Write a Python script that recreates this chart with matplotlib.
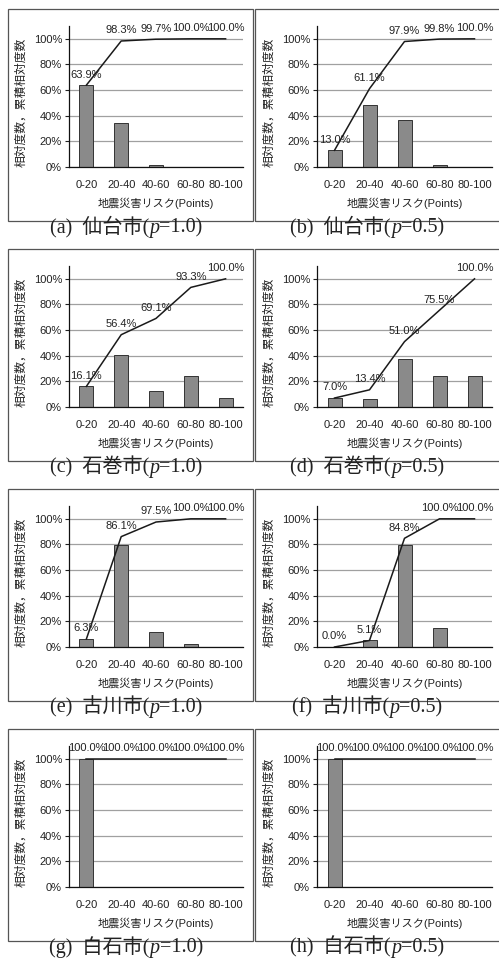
import matplotlib.pyplot as plt
from matplotlib.patches import Rectangle
from matplotlib.offsetbox import TextArea, HPacker, AnchoredOffsetbox

plt.rcParams['font.family'] = ['Liberation Sans', 'Noto Sans CJK JP']

# data (relative freq. = bars, cumulative = line)
categories = ['0-20', '20-40', '40-60', '60-80', '80-100']

rel_sendai_10 = [63.9, 34.4, 1.4, 0.3, 0.0]
cum_sendai_10 = [63.9, 98.3, 99.7, 100.0, 100.0]
rel_sendai_05 = [13.0, 48.1, 36.8, 1.9, 0.2]
cum_sendai_05 = [13.0, 61.1, 97.9, 99.8, 100.0]
rel_ishinomaki_10 = [16.1, 40.3, 12.7, 24.2, 6.7]
cum_ishinomaki_10 = [16.1, 56.4, 69.1, 93.3, 100.0]
rel_ishinomaki_05 = [7.0, 6.4, 37.6, 24.5, 24.5]
cum_ishinomaki_05 = [7.0, 13.4, 51.0, 75.5, 100.0]
rel_furukawa_10 = [6.3, 79.8, 11.4, 2.5, 0.0]
cum_furukawa_10 = [6.3, 86.1, 97.5, 100.0, 100.0]
rel_furukawa_05 = [0.0, 5.1, 79.7, 15.2, 0.0]
cum_furukawa_05 = [0.0, 5.1, 84.8, 100.0, 100.0]
rel_shiroishi_10 = [100.0, 0.0, 0.0, 0.0, 0.0]
cum_shiroishi_10 = [100.0, 100.0, 100.0, 100.0, 100.0]
rel_shiroishi_05 = [100.0, 0.0, 0.0, 0.0, 0.0]
cum_shiroishi_05 = [100.0, 100.0, 100.0, 100.0, 100.0]

panels = [
    ('(a)', '仙台市', '1.0', rel_sendai_10, cum_sendai_10),
    ('(b)', '仙台市', '0.5', rel_sendai_05, cum_sendai_05),
    ('(c)', '石巻市', '1.0', rel_ishinomaki_10, cum_ishinomaki_10),
    ('(d)', '石巻市', '0.5', rel_ishinomaki_05, cum_ishinomaki_05),
    ('(e)', '古川市', '1.0', rel_furukawa_10, cum_furukawa_10),
    ('(f)', '古川市', '0.5', rel_furukawa_05, cum_furukawa_05),
    ('(g)', '白石市', '1.0', rel_shiroishi_10, cum_shiroishi_10),
    ('(h)', '白石市', '0.5', rel_shiroishi_05, cum_shiroishi_05),
]

W, H = 499, 966
fig = plt.figure(figsize=(W / 100, H / 100), dpi=100)


def fx(px):
    return px / W


def fy(py):
    return 1 - py / H


# pixel layout of one row (row pitch 240 px)
col_axes = [(69, 243), (317, 492)]
col_box = [(8, 253), (255, 502)]
col_caption = [126, 367]
ax_top, ax_bottom = 26, 167
box_top, box_bottom = 8.5, 221
caption_y = 227

serif = ['Liberation Serif', 'Noto Sans CJK JP']
ink = '#222222'

for i, (tag, city, p, rel, cum) in enumerate(panels):
    row, col = divmod(i, 2)
    dy = 240 * row
    x0, x1 = col_axes[col]

    # frame around the panel
    bx0, bx1 = col_box[col]
    fig.add_artist(Rectangle((fx(bx0), fy(box_bottom + dy)), (bx1 - bx0) / W,
                             (box_bottom - box_top) / H, transform=fig.transFigure,
                             fill=False, ec='#555555', lw=0.9))

    ax = fig.add_axes([fx(x0), fy(ax_bottom + dy), (x1 - x0) / W, (ax_bottom - ax_top) / H])
    x = list(range(len(categories)))
    ax.bar(x, rel, width=0.4, color='#8a8a8a', edgecolor='#333333', linewidth=0.7, zorder=2)
    ax.plot(x, cum, color='#1a1a1a', lw=1.1, zorder=3)
    for xi, v in zip(x, cum):
        ax.annotate(f'{v:.1f}%', (xi, v), xytext=(0, 4), textcoords='offset points',
                    ha='center', va='bottom', fontsize=8.0, color=ink, zorder=4)

    ax.set_xlim(-0.5, 4.5)
    ax.set_ylim(0, 110)
    ax.set_xticks(x)
    ax.set_xticklabels(categories)
    ax.set_yticks([0, 20, 40, 60, 80, 100])
    ax.set_yticklabels([f'{v}%' for v in [0, 20, 40, 60, 80, 100]])
    ax.tick_params(axis='x', length=0, pad=9, labelsize=8.0, colors=ink)
    ax.tick_params(axis='y', length=3, width=0.8, pad=2, labelsize=8.0, colors=ink)
    ax.yaxis.grid(True, color='#a0a0a0', lw=0.9)
    ax.set_axisbelow(True)
    for s in ['top', 'right']:
        ax.spines[s].set_visible(False)
    for s in ['left', 'bottom']:
        ax.spines[s].set_color('#111111')
        ax.spines[s].set_linewidth(0.9)

    ax.set_ylabel('相対度数，累積相対度数', fontsize=8.5, color=ink)
    ax.yaxis.set_label_coords(-0.24, 0.46)
    ax.set_xlabel('地震災害リスク(Points)', fontsize=8.0, color=ink)
    ax.xaxis.set_label_coords(0.5, -0.22)

    # caption "(a) 仙台市(p=1.0)" with italic p
    parts = [
        TextArea(f'{tag}  {city}(', textprops=dict(family=serif, fontsize=14.5, color=ink)),
        TextArea('p', textprops=dict(family='Liberation Serif', style='italic', fontsize=14.5, color=ink)),
        TextArea(f'={p})', textprops=dict(family=serif, fontsize=14.5, color=ink)),
    ]
    pack = HPacker(children=parts, align='baseline', pad=0, sep=0)
    box = AnchoredOffsetbox(loc='center', child=pack, frameon=False, pad=0, borderpad=0,
                            bbox_to_anchor=(fx(col_caption[col]), fy(caption_y + dy)),
                            bbox_transform=fig.transFigure)
    fig.add_artist(box)

fig.savefig('out.png', dpi=100, facecolor='white')
